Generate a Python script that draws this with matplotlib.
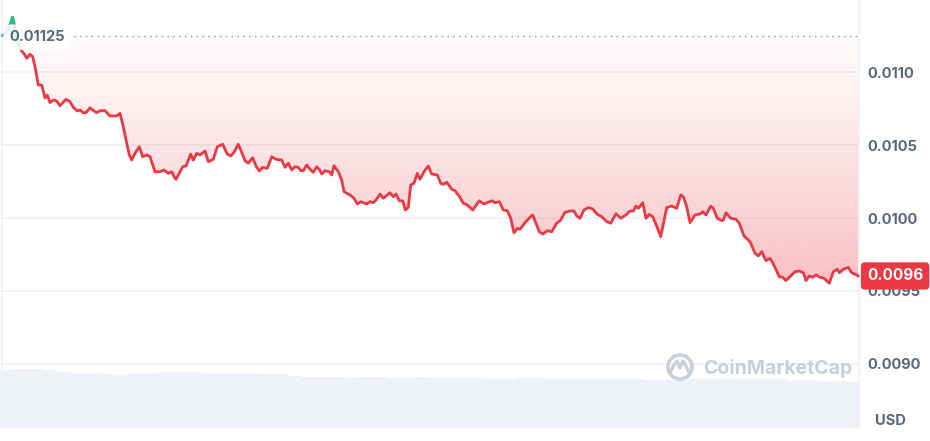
import numpy as np
import matplotlib
matplotlib.use("Agg")
import matplotlib.pyplot as plt
from matplotlib.patches import Circle
from matplotlib.transforms import blended_transform_factory

plt.rcParams['font.family'] = ['Inter', 'DejaVu Sans']

# ---------------- data ----------------
t = [3, 7, 11, 12.5, 14, 18, 21, 25, 26.7, 30, 32.7, 35, 38.3, 41.7, 45, 47.3, 50, 53.3, 56.7, 60, 66,
     70, 73.3, 77.3, 80, 83.3, 86, 90, 92.7, 96.7, 100, 105, 110, 116.7, 120, 123.3, 126.7, 129.3,
     131.7, 135, 139.3, 142.7, 146.7, 150, 155, 160, 164, 168.3, 171.7, 174, 176, 180, 182.7, 186,
     190.7, 193.3, 196.7, 200, 205, 208.3, 213.3, 217.3, 222.7, 227.3, 230.7, 234, 238.3, 241.7,
     245, 248.3, 252.7, 256, 259.3, 262.7, 267.3, 271.7, 276, 281.7, 285, 288.3, 291.7, 295, 298.3,
     301, 303.3, 306.7, 310, 313.3, 316.7, 319.3, 321.7, 325, 329.3, 331.7, 334, 338.3, 341.7, 344,
     350, 354, 357.3, 360.7, 366.7, 370, 373.3, 376, 380, 383.3, 390, 393.3, 396, 399.3, 402.7,
     405.3, 408.3, 410.7, 414, 417.3, 420, 424, 428.3, 431.7, 437.3, 440.7, 443.3, 446.7, 451.7,
     455, 460, 463.3, 467.3, 472.7, 479.3, 484, 491.7, 495, 499.3, 503.3, 507.3, 510.7, 514,
     517.3, 520, 525, 530, 532.7, 536.7, 539.3, 542.7, 547.3, 551.7, 556.7, 560.7, 565, 570, 574,
     576.7, 580, 584, 588.3, 592.7, 597.3, 601.7, 606.7, 610.7, 616, 620.7, 626, 630, 633.3, 636,
     638.3, 641, 642.7, 646, 649.3, 652.7, 656.7, 660.7, 666.7, 671.7, 676.7, 680.7, 683.3, 686.7,
     690, 695, 700, 702.7, 706, 710.7, 713.3, 717.3, 721.7, 723.3, 726, 730.7, 736, 739.3, 744,
     750, 755, 758.3, 761.7, 766, 770, 773.3, 779.3, 782.7, 786, 790, 795, 799.3, 803.3, 806,
     809.3, 812.7, 816, 820, 824, 829.3, 833.3, 837.3, 839.3, 843.3, 848.3, 851.7, 856.7, 858]

price = [0.011250, 0.011280, 0.011340, 0.011375, 0.011330, 0.011200, 0.011151, 0.011116, 0.011094, 0.011121,
         0.011105, 0.011036, 0.010911, 0.010911, 0.010822, 0.010842, 0.010790, 0.010808, 0.010801,
         0.010769, 0.010813, 0.010797, 0.010758, 0.010733, 0.010740, 0.010721, 0.010721, 0.010755,
         0.010740, 0.010721, 0.010735, 0.010735, 0.010699, 0.010699, 0.010717, 0.010625, 0.010512,
         0.010432, 0.010397, 0.010443, 0.010488, 0.010420, 0.010432, 0.010420, 0.010317, 0.010317,
         0.010329, 0.010306, 0.010317, 0.010283, 0.010265, 0.010317, 0.010351, 0.010356, 0.010438,
         0.010397, 0.010443, 0.010432, 0.010459, 0.010386, 0.010402, 0.010488, 0.010505, 0.010438,
         0.010425, 0.010450, 0.010505, 0.010450, 0.010392, 0.010375, 0.010413, 0.010356, 0.010322,
         0.010347, 0.010340, 0.010420, 0.010402, 0.010397, 0.010347, 0.010375, 0.010329, 0.010351,
         0.010347, 0.010324, 0.010324, 0.010363, 0.010334, 0.010313, 0.010351, 0.010334, 0.010301,
         0.010324, 0.010317, 0.010295, 0.010358, 0.010317, 0.010260, 0.010180, 0.010158, 0.010135,
         0.010096, 0.010112, 0.010096, 0.010112, 0.010105, 0.010123, 0.010164, 0.010135, 0.010173,
         0.010146, 0.010164, 0.010118, 0.010118, 0.010055, 0.010073, 0.010226, 0.010238, 0.010306,
         0.010265, 0.010317, 0.010356, 0.010301, 0.010295, 0.010238, 0.010231, 0.010245, 0.010197,
         0.010187, 0.010142, 0.010101, 0.010089, 0.010055, 0.010118, 0.010096, 0.010118, 0.010105,
         0.010112, 0.010055, 0.010050, 0.009998, 0.009899, 0.009929, 0.009923, 0.009968, 0.010005,
         0.010021, 0.009952, 0.009906, 0.009890, 0.009913, 0.009906, 0.009964, 0.009986, 0.010039,
         0.010048, 0.010048, 0.010014, 0.009998, 0.010055, 0.010071, 0.010062, 0.010025, 0.010009,
         0.009975, 0.009964, 0.010029, 0.009998, 0.010021, 0.010048, 0.010048, 0.010082, 0.010066,
         0.010089, 0.010105, 0.009998, 0.010025, 0.010009, 0.009945, 0.009872, 0.010071, 0.010082,
         0.010066, 0.010158, 0.010146, 0.010077, 0.009968, 0.010021, 0.010027, 0.010043, 0.010021,
         0.010082, 0.010066, 0.009998, 0.009982, 0.009986, 0.010036, 0.009998, 0.009991, 0.009964,
         0.009877, 0.009838, 0.009758, 0.009740, 0.009769, 0.009708, 0.009724, 0.009685, 0.009598,
         0.009594, 0.009571, 0.009598, 0.009632, 0.009637, 0.009625, 0.009571, 0.009603, 0.009594,
         0.009610, 0.009594, 0.009587, 0.009553, 0.009632, 0.009649, 0.009625, 0.009649, 0.009662,
         0.009625, 0.009610, 0.009603]

baseline = 0.01125
volume = [58, 59.5, 59, 58, 56, 55, 55, 54.5, 53, 55.5, 55.5, 56.5, 56.5, 56.5, 55.5, 55, 55, 55,
          54, 54, 52, 51, 51.5, 51, 50.5, 51, 51, 50.5, 50.5, 51, 50, 50, 50.5, 50, 49.5, 49.5, 50,
          50, 49.5, 49.5, 49.5, 49, 49.5, 49.5, 49, 48, 48, 48, 49, 49, 49, 49, 49, 49, 49, 48, 48,
          47, 47, 46]
yticks = [0.0090, 0.0095, 0.0100, 0.0105, 0.0110]
ytick_labels = ["0.0090", "0.0095", "0.0100", "0.0105", "0.0110"]
last_label = "0.0096"
base_label = "0.01125"

# ---------------- style ----------------
RED = '#ea3943'
GREEN = '#16c784'
TXT = '#58667e'
GRID = '#eff2f5'

W, H = 930, 441
fig = plt.figure(figsize=(W / 100, H / 100), dpi=100)
ax_l, ax_w = 0 / W, 860 / W
ax_b, ax_h = 13 / H, 428 / H
ax = fig.add_axes([ax_l, ax_b, ax_w, ax_h])
axv = fig.add_axes([ax_l, ax_b, ax_w, ax_h], zorder=-1)
ax.set_zorder(1)
ax.patch.set_alpha(0)

xmin, xmax = 0, 860
ymin, ymax = 0.0085616, 0.0114932

# volume
axv.set_xlim(xmin, xmax)
axv.set_ylim(0, 428)
nb = len(volume)
edges = np.linspace(xmin, xmax, nb + 1)
axv.bar(edges[:-1], volume, width=(edges[1] - edges[0]), align='edge',
        color='#eef1f5', edgecolor='none')
axv.axis('off')

ax.set_xlim(xmin, xmax)
ax.set_ylim(ymin, ymax)

tt = np.array(t, dtype=float)
pp = np.array(price, dtype=float)

# gradient fill below baseline (clipped to region between line and baseline)
poly = ax.fill_between(tt, pp, baseline, where=pp <= baseline, interpolate=True,
                       facecolor='none', edgecolor='none')
ny = 300
yy = np.linspace(0, 1, ny)[:, None]  # 0 at top
alpha = 0.02 + 0.30 * yy ** 1.2
img = np.zeros((ny, 2, 4))
img[..., 0] = 234 / 255
img[..., 1] = 57 / 255
img[..., 2] = 67 / 255
img[..., 3] = alpha
gbot = 0.00955
im = ax.imshow(img, extent=[xmin, xmax, gbot, baseline], aspect='auto', origin='upper',
               zorder=1, interpolation='bilinear')
paths = poly.get_paths()
if paths:
    from matplotlib.path import Path as _P
    cp = _P.make_compound_path(*paths)
    im.set_clip_path(cp, transform=ax.transData)

# green fill above baseline
ax.fill_between(tt, pp, baseline, where=pp >= baseline, interpolate=True,
                facecolor=GREEN, alpha=0.15, edgecolor='none', zorder=1)

# grid
for yv in yticks:
    ax.axhline(yv, color=GRID, lw=1.2, zorder=0.5)
ax.axvline(1.5, color=GRID, lw=1.2, zorder=0.5)
ax.axvline(859, color=GRID, lw=1.2, zorder=0.5)

# line
ax.plot(tt, pp, color=RED, lw=2.0, zorder=3, solid_joinstyle='round')
ax.plot(tt[:6], pp[:6], color=GREEN, lw=2.0, zorder=3.1, solid_joinstyle='round')

# baseline dotted
ax.plot([62, xmax], [baseline, baseline], color='#8f99a8', lw=1.0,
        linestyle=(0, (1, 3.2)), zorder=2)

# baseline label
ax.text(9, baseline - 0.000012, base_label, color=TXT, fontsize=10.5, fontweight='bold',
        va='center', ha='left', zorder=4,
        bbox=dict(boxstyle='round,pad=0.4,rounding_size=0.4', fc='white', ec='none', alpha=0.85))

# y ticks on right
ax.yaxis.tick_right()
ax.set_yticks(yticks)
ax.set_yticklabels(ytick_labels)
ax.tick_params(axis='y', length=0, pad=5, labelsize=10.5, labelcolor=TXT)
for lab in ax.get_yticklabels():
    lab.set_fontweight('bold')
ax.set_xticks([])
for s in ax.spines.values():
    s.set_visible(False)

# last price label
trans = blended_transform_factory(ax.transAxes, ax.transData)
ax.text(1.0 + 7 / 860, pp[-1], last_label, transform=trans, color='white', fontsize=11,
        fontweight='bold', va='center', ha='left', zorder=6,
        bbox=dict(boxstyle='round,pad=0.4,rounding_size=0.25', fc=RED, ec='none'))

# USD
fig.text(890 / W, 1 - 421 / H, 'USD', color=TXT, fontsize=10.5, fontweight='bold',
         ha='center', va='center')

# watermark
wm = '#c7cfda'
fig.text(703 / W, 1 - 368 / H, 'CoinMarketCap', color=wm, fontsize=14, fontweight='bold',
         ha='left', va='center')
c = Circle((680, H - 367), 12, transform=None, fill=False, ec=wm, lw=2.6)
fig.patches.append(c)
zz = [(670, H - 373), (674, H - 365), (677, H - 361), (680, H - 368), (683, H - 361),
      (686, H - 366), (689, H - 372)]
fig.lines.append(plt.Line2D([p[0] for p in zz], [p[1] for p in zz], transform=None,
                            color=wm, lw=2.4, solid_joinstyle='round', solid_capstyle='round'))

fig.savefig('out.png', dpi=100, facecolor='white')
